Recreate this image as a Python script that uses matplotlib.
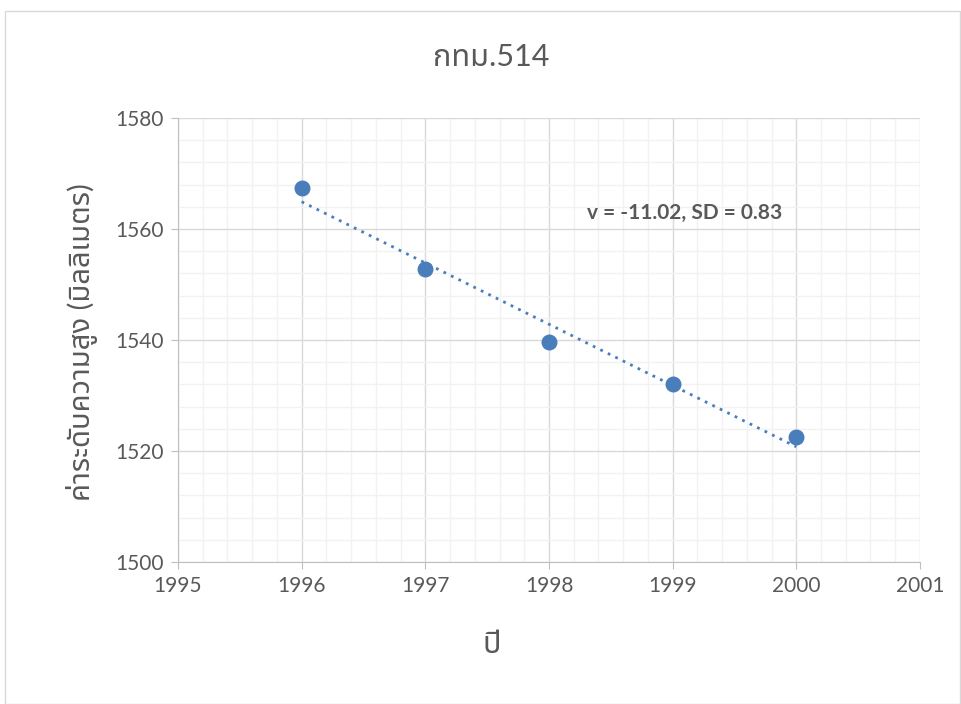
import numpy as np
import matplotlib
matplotlib.use('Agg')
import matplotlib.pyplot as plt
from matplotlib.ticker import MultipleLocator
from matplotlib.patches import Rectangle

# data
years = [1996, 1997, 1998, 1999, 2000]
levels = [1567.3, 1552.8, 1539.6, 1532.0, 1522.5]
title = 'กทม.514'
xlabel = 'ปี'
ylabel = 'ค่าระดับความสูง (มิลลิเมตร)'
note = 'v = -11.02, SD = 0.83'

plt.rcParams['font.family'] = ['Lato', 'Noto Sans Thai', 'DejaVu Sans']
blue = '#4a7ebb'
txt = '#595959'

fig = plt.figure(figsize=(9.61, 7.04), dpi=100)
ax = fig.add_axes([0.1852, 0.2017, 0.7721, 0.6307])

# outer chart border
fig.patches.append(Rectangle((0.005, 0.0), 0.994, 0.984, transform=fig.transFigure,
                             fill=False, edgecolor='#d9d9d9', linewidth=1))

ax.scatter(years, levels, s=110, color=blue, zorder=3)

# linear trend line
p = np.polyfit(years, levels, 1)
xs = np.array([years[0], years[-1]])
ax.plot(xs, np.polyval(p, xs), linestyle=(0, (1, 2)), color=blue, linewidth=2, zorder=2)

ax.set_xlim(1995, 2001)
ax.set_ylim(1500, 1580)
ax.xaxis.set_major_locator(MultipleLocator(1))
ax.xaxis.set_minor_locator(MultipleLocator(0.2))
ax.yaxis.set_major_locator(MultipleLocator(20))
ax.yaxis.set_minor_locator(MultipleLocator(4))
ax.grid(which='major', color='#d9d9d9', linewidth=1)
ax.grid(which='minor', color='#f2f2f2', linewidth=1)
ax.set_axisbelow(True)

for s in ['top', 'right']:
    ax.spines[s].set_visible(False)
for s in ['left', 'bottom']:
    ax.spines[s].set_color('#bfbfbf')
ax.tick_params(which='major', length=5, color='#bfbfbf', labelsize=15, labelcolor=txt, pad=5)
ax.tick_params(which='minor', length=0)

# title and axis labels are centred on the whole chart, not the plot area
fig.text(0.511, 0.919, title, fontsize=22, color=txt, ha='center', va='center')
ax.set_xlabel(xlabel, fontsize=22, color=txt)
ax.xaxis.set_label_coords(0.423, -0.153)
ax.set_ylabel(ylabel, fontsize=21, color=txt)
ax.yaxis.set_label_coords(-0.108, 0.495)

ax.text(1998.31, 1562.9, note, fontsize=15, fontweight='bold', color=txt, va='center', ha='left')

fig.savefig('out.png', dpi=100)
